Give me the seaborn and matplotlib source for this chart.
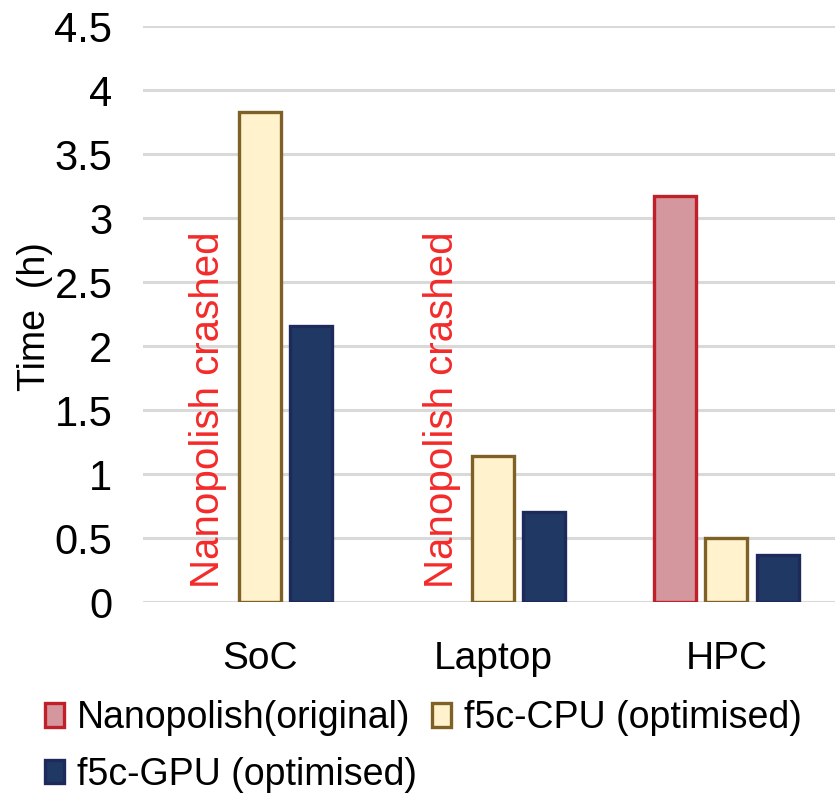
import numpy as np
import pandas as pd
import matplotlib
matplotlib.use("Agg")
import matplotlib.pyplot as plt
from matplotlib.patches import Patch
import seaborn as sns

# ---- data ----
platforms = ["SoC", "Laptop", "HPC"]
methods = ["Nanopolish(original)", "f5c-CPU (optimised)", "f5c-GPU (optimised)"]
nanopolish = [np.nan, np.nan, 3.17]
f5c_cpu = [3.83, 1.14, 0.50]
f5c_gpu = [2.16, 0.70, 0.37]
crash_note = "Nanopolish crashed"
yticks = [0, 0.5, 1, 1.5, 2, 2.5, 3, 3.5, 4, 4.5]
ytick_labels = ["0", "0.5", "1", "1.5", "2", "2.5", "3", "3.5", "4", "4.5"]

# ---- styles ----
fills = ["#D5979E", "#FFF2CC", "#203864"]
edges = ["#C0202A", "#7F6026", "#1F2A5C"]

df = pd.DataFrame({
    "platform": platforms * 3,
    "method": [methods[0]] * 3 + [methods[1]] * 3 + [methods[2]] * 3,
    "time": nanopolish + f5c_cpu + f5c_gpu,
})

sns.set_theme(style="white")
plt.rcParams["font.family"] = ["Liberation Sans", "DejaVu Sans"]
plt.rcParams["text.color"] = "black"

fig = plt.figure(figsize=(8.35, 7.99), dpi=100)
ax = fig.add_axes([143 / 835, 1 - 602 / 799, 700 / 835, 576 / 799])

group_w = 0.66
sns.barplot(data=df, x="platform", y="time", hue="method", order=platforms,
            hue_order=methods, palette=fills, width=group_w, gap=0.18,
            linewidth=2.4, saturation=1, legend=False, ax=ax, zorder=3)

for cont, ec in zip(ax.containers, edges):
    for bar in cont:
        bar.set_edgecolor(ec)
        bar.set_linewidth(2.4)

# crashed annotations
slot = group_w / 3
for i, v in enumerate(nanopolish):
    if np.isnan(v):
        ax.text(i - slot, 0.11, crash_note, rotation=90, ha="center", va="bottom",
                color="#F42A2A", fontsize=29, zorder=4)

ax.set_ylim(0, 4.5)
ax.set_xlim(-0.5, 2.5)
ax.set_yticks(yticks)
ax.set_yticklabels(ytick_labels)
ax.yaxis.grid(True, color="#D9D9D9", linewidth=2.2, zorder=0)
ax.xaxis.grid(False)
ax.set_axisbelow(True)
for s in ax.spines.values():
    s.set_visible(False)
ax.tick_params(axis="y", length=0, pad=22, labelsize=30, colors="black")
ax.tick_params(axis="x", length=0, pad=28, labelsize=28, colors="black")
ax.set_xlabel("")
ax.set_ylabel("Time  (h)", fontsize=27, color="black")
ax.yaxis.set_label_coords(-0.128, 0.495)

handles = [Patch(facecolor=f, edgecolor=e, linewidth=2.4) for f, e in zip(fills, edges)]
order = [0, 2, 1]
leg = fig.legend([handles[k] for k in order], [methods[k] for k in order],
                 loc="upper left", bbox_to_anchor=(45 / 835, 1 - 700 / 799),
                 ncol=2, frameon=False, fontsize=27, handlelength=0.5,
                 handleheight=0.6, handletextpad=0.35, columnspacing=0.4,
                 labelspacing=0.55, borderpad=0, borderaxespad=0)
for t in leg.get_texts():
    t.set_color("black")

fig.savefig("out.png", dpi=100)
